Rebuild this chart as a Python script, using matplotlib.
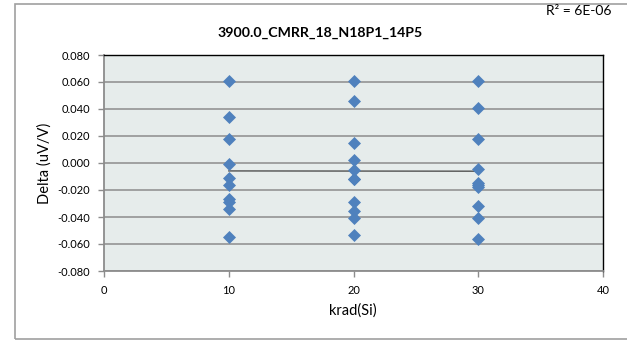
import numpy as np
import matplotlib.pyplot as plt
from matplotlib.patches import Rectangle

# data (some markers overlap)
x_vals = [10] * 10 + [20] * 11 + [30] * 10
delta = [0.061, 0.034, 0.018, -0.001, -0.011, -0.016, -0.027, -0.029, -0.034, -0.055,
         0.061, 0.046, 0.015, 0.0025, -0.005, -0.0117, -0.012, -0.0287, -0.0356, -0.041, -0.0537,
         0.061, 0.041, 0.018, -0.0045, -0.015, -0.016, -0.0175, -0.0316, -0.041, -0.0562]
title = '3900.0_CMRR_18_N18P1_14P5'
r2_text = 'R² = 6E-06'

plt.rcParams['font.family'] = ['Lato', 'DejaVu Sans']

fig = plt.figure(figsize=(6.27, 3.41), dpi=100)
W, H = 627, 341
ax = fig.add_axes([104 / W, 1 - 271 / H, (603 - 104) / W, (271 - 55) / H])

# outer chart border (right edge falls off the picture)
fig.patches.append(Rectangle((15 / W, 1 - 339 / H), 1.0, (339 - 4) / H,
                             transform=fig.transFigure, fill=False,
                             edgecolor='#a0a0a0', linewidth=1.2))

ax.set_facecolor('#e6eceb')
ax.scatter(x_vals, delta, marker='D', s=44, color='#4f81bd', zorder=3, linewidths=0)

# linear trendline
k, b = np.polyfit(x_vals, delta, 1)
xt = np.array([min(x_vals), max(x_vals)])
ax.plot(xt, k * xt + b, color='#404040', linewidth=0.9, zorder=2)

ax.set_xlim(0, 40)
ax.set_ylim(-0.08, 0.08)
ax.set_xticks([0, 10, 20, 30, 40])
yt = np.arange(-0.08, 0.081, 0.02)
ax.set_yticks(yt)
ax.set_yticklabels(['%.3f' % v for v in yt])
ax.grid(axis='y', color='#8c8c8c', linewidth=1.1)
ax.set_axisbelow(True)

for s in ['top', 'right']:
    ax.spines[s].set_color('black')
    ax.spines[s].set_linewidth(1.0)
for s in ['left', 'bottom']:
    ax.spines[s].set_color('#8c8c8c')
    ax.spines[s].set_linewidth(1.3)

ax.tick_params(axis='both', labelsize=8, color='#8c8c8c', length=4, width=1)
ax.tick_params(axis='y', pad=6)
ax.tick_params(axis='x', pad=6)

fig.text(353 / W, 1 - 311 / H, 'krad(Si)', ha='center', va='center', fontsize=10.5)
fig.text(45 / W, 1 - 163 / H, 'Delta (uV/V)', ha='center', va='center', rotation=90, fontsize=10.5)
fig.text(320 / W, 1 - 33 / H, title, ha='center', va='center', fontsize=10.2, fontweight='bold')
fig.text(612 / W, 1 - 11 / H, r2_text, ha='right', va='center', fontsize=10)

fig.savefig('out.png', dpi=100)
